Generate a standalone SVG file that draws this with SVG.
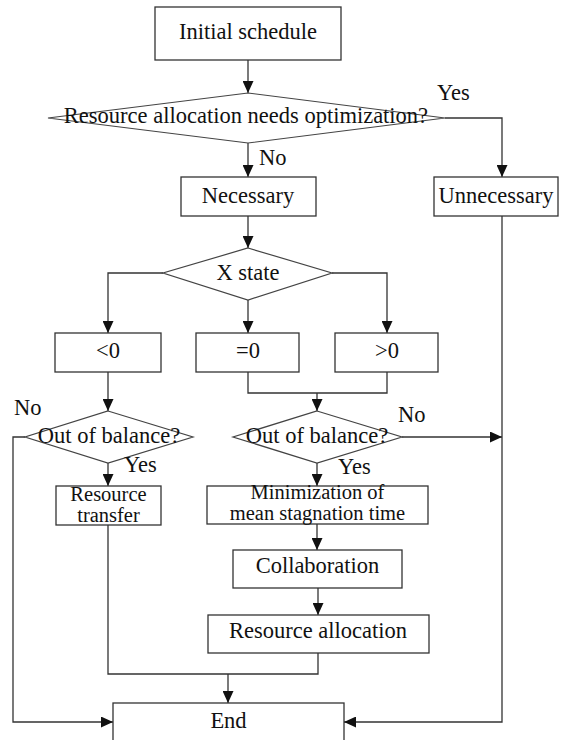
<svg xmlns="http://www.w3.org/2000/svg" width="562" height="740" viewBox="0 0 562 740">
<style>
.box{fill:#fff;stroke:#333;stroke-width:1.3}
.dia{fill:#fff;stroke:#444;stroke-width:1.2}
.ln{fill:none;stroke:#333;stroke-width:1.3}
.arr{fill:none;stroke:#333;stroke-width:1.3;marker-end:url(#ah)}
.t{font-family:'Liberation Serif','DejaVu Serif',serif;font-size:22.5px;fill:#111}
.s{font-size:20.5px}
.c{text-anchor:middle}
</style>
<defs>
<marker id="ah" markerUnits="userSpaceOnUse" markerWidth="12" markerHeight="11" refX="12" refY="5.5" orient="auto">
<path d="M0,0 L12,5.5 L0,11 Z" fill="#111"/>
</marker>
</defs>
<rect x="0" y="0" width="562" height="740" fill="#fff"/>
<g id="connectors">
<path class="arr" d="M248,60 L248,93"/>
<path class="arr" d="M445,118 L502,118 L502,177"/>
<path class="arr" d="M248,143 L248,177"/>
<path class="arr" d="M248,216 L248,248"/>
<path class="arr" d="M163,273 L108,273 L108,333"/>
<path class="arr" d="M248,300 L248,333"/>
<path class="arr" d="M332,273 L387,273 L387,333"/>
<path class="arr" d="M108,372 L108,411"/>
<path class="ln" d="M248,372 L248,393 L387,393 L387,372"/>
<path class="arr" d="M317,393 L317,411"/>
<path class="arr" d="M25,437 L13,437 L13,722 L113,722"/>
<path class="arr" d="M108,463 L108,486"/>
<path class="arr" d="M402,437 L502,437"/>
<path class="arr" d="M502,216 L502,722 L344,722"/>
<path class="arr" d="M317,463 L317,486"/>
<path class="arr" d="M317,524 L317,550"/>
<path class="arr" d="M318,588 L318,615"/>
<path class="ln" d="M108,525 L108,674 L318,674 L318,653"/>
<path class="arr" d="M228,674 L228,703"/>
</g>
<g id="initial"><rect class="box" x="155" y="7" width="186" height="53"/><text class="t c" x="248" y="39">Initial schedule</text></g>
<g id="decision1"><polygon class="dia" points="248,93 445,118 248,143 48,118"/><text class="t c" x="246" y="123">Resource allocation needs optimization?</text></g>
<g id="label-yes1"><text class="t" x="437" y="100">Yes</text></g>
<g id="label-no1"><text class="t" x="259" y="165">No</text></g>
<g id="necessary"><rect class="box" x="181" y="177" width="135" height="39"/><text class="t c" x="248" y="203">Necessary</text></g>
<g id="unnecessary"><rect class="box" x="434" y="177" width="124" height="39"/><text class="t c" x="496" y="203">Unnecessary</text></g>
<g id="xstate"><polygon class="dia" points="248,248 332,273 248,300 163,273"/><text class="t c" x="248" y="280">X state</text></g>
<g id="lt0"><rect class="box" x="55" y="333" width="106" height="39"/><text class="t c" x="108" y="358">&lt;0</text></g>
<g id="eq0"><rect class="box" x="196" y="333" width="103" height="39"/><text class="t c" x="248" y="358">=0</text></g>
<g id="gt0"><rect class="box" x="335" y="333" width="103" height="39"/><text class="t c" x="387" y="358">&gt;0</text></g>
<g id="balance-left"><polygon class="dia" points="108,411 193,437 108,463 25,437"/><text class="t c" x="109" y="443">Out of balance?</text></g>
<g id="label-no-left"><text class="t" x="14" y="415">No</text></g>
<g id="label-yes-left"><text class="t" x="124" y="472">Yes</text></g>
<g id="balance-right"><polygon class="dia" points="317,411 402,437 317,463 233,437"/><text class="t c" x="317" y="443">Out of balance?</text></g>
<g id="label-no-right"><text class="t" x="398" y="422">No</text></g>
<g id="label-yes-right"><text class="t" x="338" y="474">Yes</text></g>
<g id="transfer"><rect class="box" x="56" y="486" width="105" height="39"/><text class="t s c" x="108.5" y="501">Resource</text><text class="t s c" x="108.5" y="522">transfer</text></g>
<g id="minimization"><rect class="box" x="207" y="486" width="221" height="38"/><text class="t s c" x="317.5" y="499">Minimization of</text><text class="t s c" x="317.5" y="520">mean stagnation time</text></g>
<g id="collaboration"><rect class="box" x="233" y="550" width="169" height="38"/><text class="t c" x="317.5" y="573">Collaboration</text></g>
<g id="allocation"><rect class="box" x="208" y="615" width="221" height="38"/><text class="t c" x="318" y="638">Resource allocation</text></g>
<g id="end"><rect class="box" x="113" y="703" width="231" height="50"/><text class="t c" x="228.5" y="728">End</text></g>
</svg>
